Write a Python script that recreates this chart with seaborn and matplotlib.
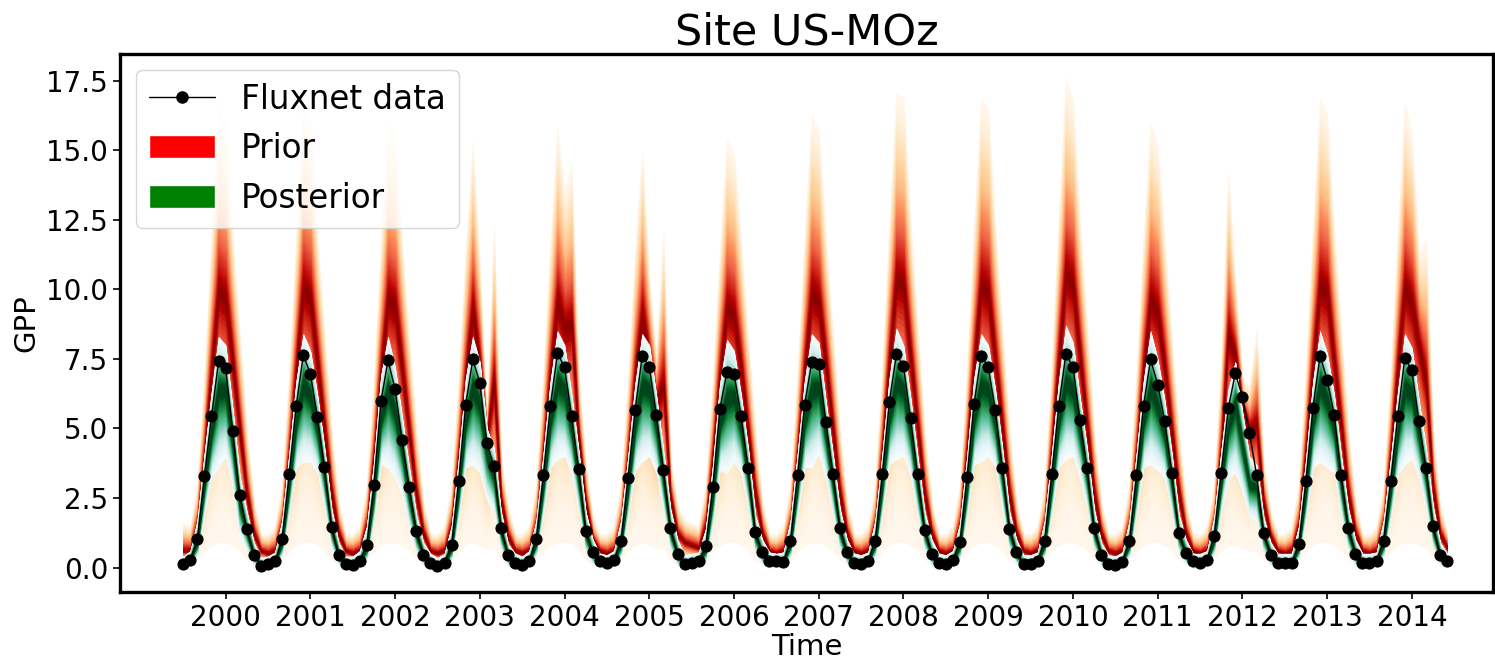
import numpy as np
import matplotlib
matplotlib.use("Agg")
import matplotlib.pyplot as plt
from matplotlib.lines import Line2D
from matplotlib.patches import Patch
import seaborn as sns
import pandas as pd

# ---------------- data (monthly, one row per year-cycle) ----------------
YEARS = [2000, 2001, 2002, 2003, 2004, 2005, 2006, 2007, 2008, 2009, 2010, 2011, 2012, 2013, 2014]

FLUXNET_GPP = [
    [0.12, 0.28, 1.01, 3.29, 5.43, 7.41, 7.16, 4.92, 2.61, 1.37, 0.46, 0.05],
    [0.12, 0.22, 1.01, 3.35, 5.81, 7.64, 6.97, 5.40, 3.61, 1.46, 0.46, 0.12],
    [0.09, 0.24, 0.82, 2.97, 5.97, 7.45, 6.41, 4.57, 2.89, 1.31, 0.46, 0.18],
    [0.05, 0.15, 0.82, 3.10, 5.85, 7.48, 6.65, 4.47, 3.64, 1.42, 0.44, 0.18],
    [0.09, 0.24, 1.04, 3.32, 5.81, 7.71, 7.20, 5.43, 3.53, 1.33, 0.54, 0.22],
    [0.15, 0.28, 0.97, 3.23, 5.66, 7.61, 7.22, 5.49, 3.51, 1.42, 0.50, 0.14],
    [0.18, 0.22, 0.76, 2.89, 5.69, 7.03, 6.97, 5.45, 3.57, 1.27, 0.54, 0.24],
    [0.22, 0.20, 0.97, 3.32, 5.84, 7.38, 7.31, 5.24, 3.38, 1.42, 0.54, 0.18],
    [0.14, 0.22, 0.97, 3.35, 5.94, 7.67, 7.25, 5.36, 3.35, 1.36, 0.50, 0.18],
    [0.14, 0.28, 0.91, 3.25, 5.88, 7.61, 7.22, 5.66, 3.57, 1.40, 0.54, 0.14],
    [0.14, 0.22, 0.97, 3.35, 5.81, 7.67, 7.22, 5.30, 3.57, 1.42, 0.46, 0.14],
    [0.10, 0.20, 0.95, 3.32, 5.81, 7.48, 6.58, 5.26, 3.41, 1.24, 0.52, 0.22],
    [0.18, 0.28, 1.14, 3.41, 5.72, 6.99, 6.13, 4.85, 3.34, 1.24, 0.46, 0.18],
    [0.18, 0.18, 0.85, 3.12, 5.75, 7.61, 6.75, 5.49, 3.32, 1.42, 0.50, 0.18],
    [0.18, 0.22, 0.97, 3.12, 5.43, 7.54, 7.09, 5.26, 3.57, 1.49, 0.46, 0.22],
]

PRIOR_HI = [
    [1.6, 1.5, 3.0, 7.0, 12.0, 16.5, 15.9, 12.0, 8.5, 5.0, 2.4, 1.2],
    [1.2, 1.5, 3.0, 7.0, 12.0, 16.6, 16.0, 12.0, 8.5, 5.0, 2.4, 1.2],
    [1.2, 1.5, 3.0, 6.8, 11.8, 16.0, 15.5, 11.8, 8.3, 5.0, 2.4, 1.2],
    [1.2, 1.5, 3.0, 6.8, 11.5, 15.3, 11.0, 5.2, 12.3, 4.0, 2.2, 1.2],
    [1.2, 1.5, 3.0, 7.0, 11.8, 15.8, 13.6, 14.5, 7.0, 3.8, 1.8, 1.2],
    [1.2, 1.5, 3.0, 6.8, 11.5, 15.0, 10.5, 7.6, 12.1, 4.0, 2.2, 1.7],
    [1.6, 1.5, 3.0, 6.8, 11.5, 15.4, 14.9, 11.8, 8.3, 5.0, 2.4, 1.2],
    [1.2, 1.5, 3.0, 7.0, 12.0, 16.3, 15.7, 12.0, 8.5, 5.0, 2.4, 1.2],
    [1.2, 1.5, 3.0, 7.2, 12.5, 17.1, 16.9, 12.5, 8.8, 5.0, 2.4, 1.2],
    [1.2, 1.5, 3.0, 7.2, 12.4, 16.9, 16.5, 12.4, 8.7, 5.0, 2.4, 1.2],
    [1.2, 1.5, 3.0, 7.3, 12.8, 17.6, 16.8, 12.5, 8.8, 5.0, 2.4, 1.2],
    [1.2, 1.5, 3.0, 7.0, 12.0, 16.0, 15.2, 11.8, 8.3, 5.0, 2.4, 1.2],
    [1.2, 1.5, 3.0, 7.5, 14.2, 10.4, 6.8, 6.5, 8.6, 3.8, 2.0, 1.2],
    [1.2, 1.5, 3.0, 7.2, 12.4, 16.9, 16.3, 12.2, 8.6, 5.0, 2.4, 1.2],
    [1.2, 1.5, 3.0, 7.0, 12.2, 16.7, 15.6, 11.3, 11.8, 5.0, 2.2, 1.3],
]

PRIOR_MED = [
    [0.6, 0.6, 1.5, 4.0, 7.0, 9.9, 9.6, 7.3, 4.9, 2.6, 1.2, 0.6],
    [0.5, 0.6, 1.5, 4.0, 7.0, 10.0, 9.6, 7.3, 4.9, 2.6, 1.2, 0.6],
    [0.5, 0.6, 1.5, 3.9, 6.9, 9.6, 9.3, 7.1, 4.8, 2.6, 1.2, 0.6],
    [0.5, 0.6, 1.5, 3.9, 6.8, 9.2, 7.2, 4.7, 6.6, 2.4, 1.1, 0.6],
    [0.5, 0.6, 1.5, 4.0, 6.9, 9.5, 8.6, 8.7, 4.6, 2.3, 1.0, 0.6],
    [0.5, 0.6, 1.5, 3.9, 6.8, 9.0, 7.5, 6.0, 6.5, 2.5, 1.2, 0.9],
    [0.8, 0.7, 1.5, 3.9, 6.8, 9.3, 9.0, 7.1, 4.8, 2.6, 1.2, 0.6],
    [0.5, 0.6, 1.5, 4.0, 7.0, 9.8, 9.5, 7.3, 4.9, 2.6, 1.2, 0.6],
    [0.5, 0.6, 1.5, 4.1, 7.3, 10.3, 10.1, 7.5, 5.0, 2.6, 1.2, 0.6],
    [0.5, 0.6, 1.5, 4.1, 7.2, 10.1, 9.8, 7.4, 5.0, 2.6, 1.2, 0.6],
    [0.5, 0.6, 1.5, 4.2, 7.4, 10.5, 10.1, 7.5, 5.0, 2.6, 1.2, 0.6],
    [0.5, 0.6, 1.5, 4.0, 7.0, 9.6, 9.1, 7.1, 4.8, 2.6, 1.2, 0.6],
    [0.5, 0.6, 1.5, 4.2, 8.3, 7.6, 5.8, 5.0, 5.1, 2.3, 1.1, 0.6],
    [0.5, 0.6, 1.5, 4.1, 7.2, 10.1, 9.8, 7.3, 5.0, 2.6, 1.2, 0.6],
    [0.5, 0.6, 1.5, 4.0, 7.1, 10.0, 9.4, 8.0, 6.6, 2.8, 1.2, 0.7],
]

PRIOR_LO = [
    [0.10, 0.10, 0.30, 0.60, 0.80, 0.90, 0.90, 0.80, 0.60, 0.30, 0.10, 0.05],
    [0.05, 0.10, 0.30, 0.60, 0.80, 0.90, 0.90, 0.80, 0.60, 0.30, 0.10, 0.05],
    [0.05, 0.10, 0.30, 0.60, 0.80, 0.90, 0.90, 0.80, 0.60, 0.30, 0.10, 0.05],
    [0.05, 0.10, 0.30, 0.60, 0.80, 0.90, 0.80, 0.70, 0.70, 0.30, 0.10, 0.05],
    [0.05, 0.10, 0.30, 0.60, 0.80, 0.90, 0.90, 0.90, 0.60, 0.30, 0.10, 0.05],
    [0.05, 0.10, 0.30, 0.60, 0.80, 0.90, 0.80, 0.70, 0.70, 0.30, 0.10, 0.10],
    [0.10, 0.10, 0.30, 0.60, 0.80, 0.90, 0.90, 0.80, 0.60, 0.30, 0.10, 0.05],
    [0.05, 0.10, 0.30, 0.60, 0.80, 0.90, 0.90, 0.80, 0.60, 0.30, 0.10, 0.05],
    [0.05, 0.10, 0.30, 0.60, 0.80, 0.90, 0.90, 0.80, 0.60, 0.30, 0.10, 0.05],
    [0.05, 0.10, 0.30, 0.60, 0.80, 0.90, 0.90, 0.80, 0.60, 0.30, 0.10, 0.05],
    [0.05, 0.10, 0.30, 0.60, 0.80, 0.90, 0.90, 0.80, 0.60, 0.30, 0.10, 0.05],
    [0.05, 0.10, 0.30, 0.60, 0.80, 0.90, 0.90, 0.80, 0.60, 0.30, 0.10, 0.05],
    [0.05, 0.10, 0.30, 0.60, 0.80, 0.80, 0.70, 0.60, 0.60, 0.30, 0.10, 0.05],
    [0.05, 0.10, 0.30, 0.60, 0.80, 0.90, 0.90, 0.80, 0.60, 0.30, 0.10, 0.05],
    [0.05, 0.10, 0.30, 0.60, 0.80, 0.90, 0.90, 0.80, 0.70, 0.30, 0.10, 0.05],
]

POST_HI = [
    [0.40, 0.60, 1.7, 4.1, 6.3, 8.3, 8.0, 5.7, 3.3, 2.0, 0.90, 0.35],
    [0.40, 0.55, 1.7, 4.1, 6.7, 8.4, 7.8, 6.2, 4.3, 2.1, 0.90, 0.40],
    [0.40, 0.60, 1.5, 3.8, 6.9, 8.3, 7.2, 5.4, 3.6, 1.9, 0.90, 0.50],
    [0.35, 0.50, 1.5, 3.9, 6.8, 8.3, 7.4, 5.0, 4.3, 2.0, 0.85, 0.50],
    [0.40, 0.60, 1.7, 4.1, 6.7, 8.5, 8.0, 6.2, 4.2, 2.0, 1.00, 0.50],
    [0.45, 0.60, 1.7, 4.0, 6.6, 8.4, 8.0, 6.2, 4.2, 2.1, 1.00, 0.45],
    [0.50, 0.55, 1.4, 3.7, 6.6, 8.2, 7.8, 6.2, 4.3, 1.9, 1.00, 0.55],
    [0.50, 0.55, 1.7, 4.1, 6.7, 8.4, 8.1, 6.0, 4.1, 2.1, 1.00, 0.50],
    [0.45, 0.55, 1.7, 4.1, 6.8, 8.6, 8.0, 6.1, 4.0, 2.0, 1.00, 0.50],
    [0.45, 0.60, 1.6, 4.0, 6.8, 8.4, 8.0, 6.4, 4.3, 2.0, 1.00, 0.45],
    [0.45, 0.55, 1.7, 4.1, 6.7, 8.7, 8.1, 6.1, 4.3, 2.1, 0.90, 0.45],
    [0.40, 0.55, 1.7, 4.1, 6.7, 8.5, 7.5, 6.0, 4.1, 1.9, 1.00, 0.50],
    [0.50, 0.60, 1.8, 4.2, 6.4, 7.4, 5.6, 4.0, 3.7, 1.8, 0.90, 0.50],
    [0.50, 0.50, 1.5, 3.9, 6.7, 8.5, 7.7, 6.2, 4.0, 2.1, 1.00, 0.50],
    [0.50, 0.55, 1.7, 3.9, 6.3, 8.4, 7.9, 6.0, 4.3, 2.2, 0.90, 0.50],
]

POST_MED = [
    [0.10, 0.30, 0.90, 3.0, 4.9, 6.4, 6.4, 4.5, 2.3, 1.30, 0.45, 0.05],
    [0.10, 0.20, 0.90, 3.0, 5.3, 6.6, 6.2, 5.0, 3.3, 1.35, 0.45, 0.10],
    [0.10, 0.20, 0.70, 2.7, 5.4, 6.4, 5.6, 4.2, 2.6, 1.20, 0.45, 0.15],
    [0.05, 0.15, 0.70, 2.8, 5.3, 6.5, 5.9, 4.1, 3.3, 1.30, 0.40, 0.15],
    [0.10, 0.20, 0.90, 3.0, 5.3, 6.7, 6.4, 5.0, 3.2, 1.20, 0.50, 0.20],
    [0.15, 0.25, 0.85, 2.9, 5.2, 6.6, 6.4, 5.1, 3.2, 1.30, 0.45, 0.10],
    [0.15, 0.20, 0.65, 2.6, 5.2, 6.1, 6.2, 5.0, 3.3, 1.15, 0.50, 0.20],
    [0.20, 0.20, 0.85, 3.0, 5.3, 6.4, 6.5, 4.8, 3.1, 1.30, 0.50, 0.15],
    [0.10, 0.20, 0.85, 3.0, 5.4, 6.7, 6.4, 4.9, 3.0, 1.25, 0.45, 0.15],
    [0.10, 0.25, 0.80, 2.9, 5.4, 6.6, 6.4, 5.2, 3.3, 1.30, 0.50, 0.10],
    [0.10, 0.20, 0.85, 3.0, 5.3, 6.7, 6.4, 4.9, 3.3, 1.30, 0.45, 0.10],
    [0.10, 0.20, 0.85, 3.0, 5.3, 6.5, 5.8, 4.8, 3.1, 1.15, 0.50, 0.20],
    [0.15, 0.25, 1.00, 3.1, 5.1, 5.9, 4.4, 3.0, 2.9, 1.15, 0.45, 0.15],
    [0.15, 0.15, 0.75, 2.8, 5.3, 6.6, 6.0, 5.0, 3.0, 1.30, 0.45, 0.15],
    [0.15, 0.20, 0.85, 2.8, 4.9, 6.5, 6.3, 4.8, 3.3, 1.35, 0.45, 0.20],
]

POST_LO = [
    [0.0, 0.10, 0.40, 1.9, 3.2, 3.6, 4.0, 2.9, 1.1, 0.6, 0.06, 0.0],
    [0.0, 0.05, 0.40, 1.9, 3.6, 3.8, 3.8, 3.4, 2.1, 0.7, 0.06, 0.0],
    [0.0, 0.05, 0.25, 1.6, 3.7, 3.6, 3.2, 2.6, 1.4, 0.5, 0.06, 0.0],
    [0.0, 0.00, 0.25, 1.7, 3.6, 3.7, 3.4, 2.4, 2.0, 0.6, 0.05, 0.0],
    [0.0, 0.05, 0.40, 1.9, 3.6, 3.9, 4.0, 3.4, 2.0, 0.5, 0.10, 0.0],
    [0.0, 0.05, 0.35, 1.8, 3.5, 3.8, 4.0, 3.4, 2.0, 0.6, 0.06, 0.0],
    [0.0, 0.05, 0.20, 1.5, 3.5, 3.4, 3.8, 3.4, 2.1, 0.5, 0.10, 0.0],
    [0.0, 0.05, 0.35, 1.9, 3.6, 3.6, 4.1, 3.2, 1.9, 0.6, 0.10, 0.0],
    [0.0, 0.05, 0.35, 1.9, 3.7, 3.9, 4.0, 3.3, 1.8, 0.6, 0.06, 0.0],
    [0.0, 0.05, 0.30, 1.8, 3.7, 3.8, 4.0, 3.6, 2.1, 0.6, 0.10, 0.0],
    [0.0, 0.05, 0.35, 1.9, 3.6, 3.9, 4.0, 3.2, 2.1, 0.6, 0.06, 0.0],
    [0.0, 0.05, 0.35, 1.9, 3.6, 3.7, 3.5, 3.2, 1.9, 0.5, 0.10, 0.0],
    [0.0, 0.05, 0.45, 2.0, 3.2, 3.4, 2.7, 1.8, 1.7, 0.5, 0.06, 0.0],
    [0.0, 0.00, 0.30, 1.7, 3.6, 3.8, 3.6, 3.4, 1.8, 0.6, 0.06, 0.0],
    [0.0, 0.05, 0.35, 1.7, 3.3, 3.7, 3.9, 3.2, 2.1, 0.7, 0.06, 0.0],
]

# ---------------- assemble ----------------
obs = np.concatenate(FLUXNET_GPP)
p_hi, p_med, p_lo = (np.concatenate(a) for a in (PRIOR_HI, PRIOR_MED, PRIOR_LO))
q_hi, q_med, q_lo = (np.concatenate(a) for a in (POST_HI, POST_MED, POST_LO))
t = np.arange(len(obs))
df = pd.DataFrame({"Time": t, "GPP": obs})

tick_pos = np.arange(6, len(obs), 12)[:len(YEARS)]

# ---------------- style ----------------
sns.set_style("ticks")
plt.rcParams["font.family"] = ["DejaVu Sans"]
for key in ("text.color", "axes.labelcolor", "xtick.color", "ytick.color", "axes.edgecolor"):
    plt.rcParams[key] = "black"

fig = plt.figure(figsize=(14.95, 6.61), dpi=100)
ax = fig.add_axes([0.0803, 0.1044, 0.9184, 0.8146])


def fan(ax, x, lo, med, hi, cmap, n=45, g_lo=1.0, g_hi=1.0, sat=0.9, z=1):
    """Nested quantile bands drawn outer-to-inner; each band reaches the median,
    so there are no seams between neighbouring bands."""
    for k in range(n):
        f = k / n
        c_lo = cmap(min(1.0, f / sat) ** g_lo)
        c_hi = cmap(min(1.0, f / sat) ** g_hi)
        a = lo + (med - lo) * f
        b = hi - (hi - med) * f
        ax.fill_between(x, a, med, facecolor=c_lo, edgecolor=c_lo, lw=0.4, zorder=z)
        ax.fill_between(x, med, b, facecolor=c_hi, edgecolor=c_hi, lw=0.4, zorder=z)


fan(ax, t, p_lo, p_med, p_hi, plt.get_cmap("OrRd"), g_lo=2.0, g_hi=1.35, sat=1.0, z=1)
fan(ax, t, q_lo, q_med, q_hi, plt.get_cmap("BuGn"), g_lo=1.3, g_hi=1.3, sat=0.9, z=2)

sns.lineplot(data=df, x="Time", y="GPP", ax=ax, color="black", lw=1.0,
             marker="o", markersize=8, markeredgecolor="black", zorder=5, legend=False)

ax.set_xlim(-8.95, 185.5)
ax.set_ylim(-0.88, 18.48)
ax.set_xticks(tick_pos)
ax.set_xticklabels([str(y) for y in YEARS])
yt = np.arange(0, 17.6, 2.5)
ax.set_yticks(yt)
ax.set_yticklabels([f"{v:.1f}" for v in yt])
ax.tick_params(axis="both", labelsize=20, length=5, width=1.2, color="black", labelcolor="black")
for s in ax.spines.values():
    s.set_linewidth(2.4)
    s.set_color("black")

ax.set_xlabel("Time", fontsize=21, labelpad=1)
ax.set_ylabel("GPP", fontsize=21, labelpad=4)
ax.set_title("Site US-MOz", fontsize=31, pad=6)

handles = [
    Line2D([], [], color="black", lw=1.0, marker="o", markersize=8),
    Patch(facecolor="red"),
    Patch(facecolor="green"),
]
ax.legend(handles, ["Fluxnet data", "Prior", "Posterior"], loc="upper left",
          fontsize=23.5, frameon=True, framealpha=0.8)

fig.savefig("out.png", dpi=100)
